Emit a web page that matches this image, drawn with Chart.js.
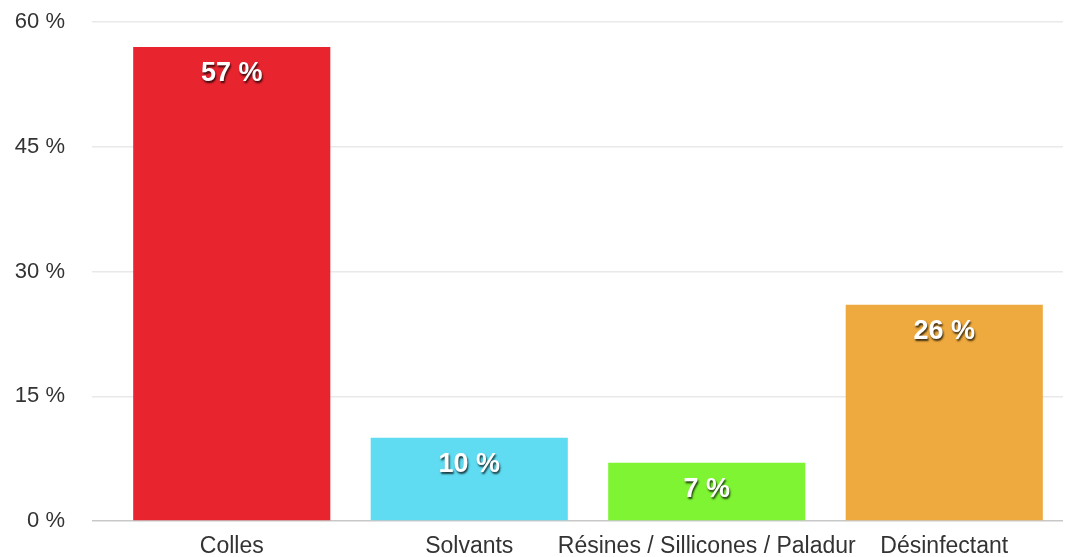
<!DOCTYPE html>
<html>
<head>
<meta charset="utf-8">
<script src="https://cdn.jsdelivr.net/npm/chart.js@4/dist/chart.umd.min.js"></script>
<style>
  html, body { margin: 0; padding: 0; background: #fff; }
  #wrap { width: 1071px; height: 557px; }
</style>
</head>
<body>
<div id="wrap"><canvas id="chart"></canvas></div>
<script>
const categories = ['Colles', 'Solvants', 'Résines / Sillicones / Paladur', 'Désinfectant'];
const values = [57, 10, 7, 26];
const barColors = ['#e8242f', '#5fdcf2', '#7ef433', '#eeaa3e'];
const yTicks = [0, 15, 30, 45, 60];

// étiquettes blanches avec ombre dans le haut des barres
const valueLabels = {
  id: 'valueLabels',
  afterDatasetsDraw(chart) {
    const ctx = chart.ctx;
    const meta = chart.getDatasetMeta(0);
    ctx.save();
    ctx.font = 'bold 27px "Liberation Sans", Arial, sans-serif';
    ctx.textAlign = 'center';
    ctx.textBaseline = 'middle';
    ctx.shadowColor = 'rgba(0,0,0,0.75)';
    ctx.shadowOffsetX = 1;
    ctx.shadowOffsetY = 2;
    ctx.shadowBlur = 2;
    ctx.fillStyle = '#ffffff';
    meta.data.forEach((bar, i) => {
      ctx.fillText(values[i] + ' %', bar.x, bar.y + 27);
    });
    ctx.restore();
  }
};

const ctx = document.getElementById('chart').getContext('2d');
new Chart(ctx, {
  type: 'bar',
  data: {
    labels: categories,
    datasets: [{
      data: values,
      backgroundColor: barColors,
      borderWidth: 0,
      categoryPercentage: 1,
      barPercentage: 0.83
    }]
  },
  options: {
    responsive: true,
    maintainAspectRatio: false,
    animation: false,
    layout: { padding: { top: 0, right: 8, left: 0, bottom: 0 } },
    plugins: {
      legend: { display: false },
      tooltip: { enabled: false }
    },
    scales: {
      x: {
        grid: { display: false },
        border: { display: false },
        afterFit: (axis) => { axis.height = 36; },
        ticks: {
          color: '#333',
          padding: 4,
          maxRotation: 0,
          autoSkip: false,
          font: { family: '"Liberation Sans", Arial, sans-serif', size: 23 }
        }
      },
      y: {
        min: 0,
        max: 60,
        afterBuildTicks: (axis) => { axis.ticks = yTicks.map(v => ({ value: v })); },
        afterFit: (axis) => {
          axis.width = 113;
          axis.paddingTop = 22;
          axis.paddingBottom = 0;
        },
        border: { display: false },
        grid: {
          color: (c) => c.tick && c.tick.value === 0 ? '#c8c8c8' : '#e9e9e9',
          tickLength: 21,
          lineWidth: 1.5
        },
        ticks: {
          color: '#333',
          padding: 27,
          callback: (v) => v + ' %',
          font: { family: '"Liberation Sans", Arial, sans-serif', size: 22 }
        }
      }
    }
  },
  plugins: [valueLabels]
});
</script>
</body>
</html>
